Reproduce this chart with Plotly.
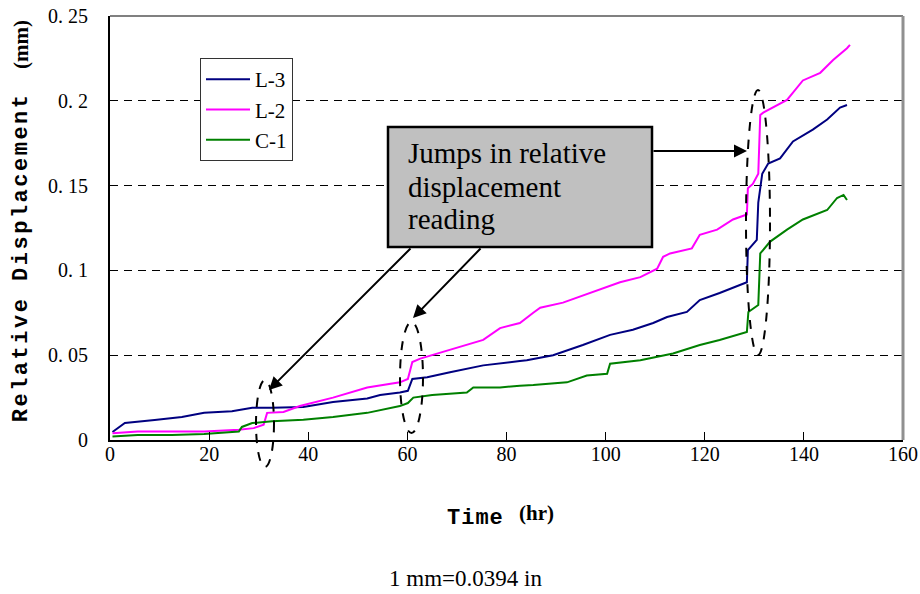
import plotly.graph_objects as go

# ---------------- data ----------------
t_L3 = [0.5, 3, 9, 14.5, 19, 24.6, 28.7, 32.7, 39, 45, 51.9, 54.5, 58.5, 60.1, 61, 64,
        68.6, 75.3, 82.7, 84.1, 89.4, 95.4, 100.9, 105.5, 109.6, 112.4, 116.4, 119, 123,
        128.5, 128.7, 130.5, 130.8, 131.6, 132.8, 135.2, 137.8, 141.8, 144.7, 147.3, 148.7]
v_L3 = [0.0047, 0.010, 0.0118, 0.0136, 0.016, 0.017, 0.019, 0.019, 0.0195, 0.0224, 0.0245,
        0.0265, 0.028, 0.029, 0.036, 0.037, 0.040, 0.044, 0.0466, 0.047, 0.050, 0.056, 0.062,
        0.065, 0.069, 0.0725, 0.0755, 0.0825, 0.0867, 0.093, 0.112, 0.118, 0.14, 0.157, 0.163,
        0.166, 0.176, 0.183, 0.189, 0.196, 0.1975]

t_L2 = [0.5, 5.6, 19, 26, 29, 31, 31.7, 35, 38.3, 45, 51.9, 58.5, 60.1, 61, 62.6, 68.6,
        75.3, 78.7, 82.7, 85.4, 86.8, 91.4, 94.8, 98.9, 102.9, 107, 110.4, 111.6, 113, 117.4,
        119, 122.5, 125.7, 128.5, 128.7, 129.7, 130.8, 131.2, 131.8, 136.6, 139.8, 143.3,
        145.9, 148.7, 149.3]
v_L2 = [0.004, 0.005, 0.005, 0.006, 0.007, 0.009, 0.016, 0.0165, 0.020, 0.025, 0.031, 0.034,
        0.036, 0.046, 0.048, 0.053, 0.059, 0.066, 0.069, 0.075, 0.078, 0.081, 0.0845, 0.0885,
        0.093, 0.096, 0.101, 0.108, 0.110, 0.113, 0.121, 0.124, 0.13, 0.133, 0.1485, 0.151,
        0.157, 0.1916, 0.193, 0.2005, 0.212, 0.2165, 0.224, 0.231, 0.233]

t_C1 = [0.5, 5.6, 12.5, 19, 26, 26.6, 28.7, 32.7, 39, 45, 51.9, 58.5, 60.1, 61.2, 65, 72,
        73.3, 78.7, 82.7, 85.4, 92.2, 96.2, 100.3, 100.9, 107, 113.6, 119, 123, 128.5, 128.8,
        130.8, 131.2, 133.2, 136.6, 139.8, 144.7, 146.7, 148, 148.7]
v_C1 = [0.002, 0.003, 0.003, 0.0035, 0.005, 0.0077, 0.010, 0.011, 0.012, 0.0136, 0.016,
        0.020, 0.0218, 0.025, 0.0265, 0.028, 0.031, 0.031, 0.032, 0.0324, 0.034, 0.038, 0.039,
        0.045, 0.047, 0.051, 0.056, 0.059, 0.0637, 0.0755, 0.0796, 0.110, 0.117, 0.124, 0.130,
        0.1356, 0.1427, 0.1445, 0.1415]

series_names = ["L-3", "L-2", "C-1"]
series_colors = ["#000080", "#FF00FF", "#008000"]

x_ticks = [0, 20, 40, 60, 80, 100, 120, 140, 160]
y_ticks = [0, 0.05, 0.1, 0.15, 0.2, 0.25]
y_ticktext = ["0", "0. 05", "0. 1", "0. 15", "0. 2", "0. 25"]

# ---------------- geometry helpers ----------------
W, H = 920, 594
L, R, T, B = 110, 17, 16, 154
PW, PH = W - L - R, H - T - B


def px(x):
    return (x - L) / PW


def py(y):
    return (H - B - y) / PH


fig = go.Figure()
for t, v, n, c in zip([t_L3, t_L2, t_C1], [v_L3, v_L2, v_C1], series_names, series_colors):
    fig.add_trace(go.Scatter(x=t, y=v, mode="lines", name=n,
                             line=dict(color=c, width=2)))

shapes = []
# gray top / right frame
shapes.append(dict(type="line", xref="paper", yref="paper", x0=0, x1=1, y0=1, y1=1,
                   line=dict(color="#808080", width=2)))
shapes.append(dict(type="line", xref="paper", yref="paper", x0=1, x1=1, y0=0, y1=1,
                   line=dict(color="#909090", width=3)))
# callout box
shapes.append(dict(type="rect", xref="paper", yref="paper",
                   x0=px(388), x1=px(652), y0=py(247), y1=py(127),
                   fillcolor="#C0C0C0", line=dict(color="black", width=2.5)))
# dashed ellipses
for (x0, x1, y0, y1) in [(256, 274, 380, 467), (400, 423, 322, 433), (746, 770, 90, 355)]:
    shapes.append(dict(type="circle", xref="paper", yref="paper",
                       x0=px(x0), x1=px(x1), y0=py(y1), y1=py(y0),
                       line=dict(color="black", width=2, dash="dash")))

annotations = []
# callout text
for txt, yc in [("Jumps in relative", 153), ("displacement", 187), ("reading", 219)]:
    annotations.append(dict(xref="paper", yref="paper", x=px(406), y=py(yc),
                            xanchor="left", yanchor="middle", showarrow=False, text=txt,
                            font=dict(family="Liberation Serif", size=29, color="black")))
# arrows (head, tail)
for (hx, hy, tx, ty) in [(269, 390, 412, 247), (413, 318, 482, 247), (747, 151, 652, 151)]:
    annotations.append(dict(xref="paper", yref="paper", x=px(hx), y=py(hy),
                            ax=tx - hx, ay=ty - hy, axref="pixel", ayref="pixel",
                            text="", showarrow=True, arrowhead=2, arrowsize=1.3,
                            arrowwidth=2, arrowcolor="black", standoff=0, startstandoff=0))
# axis titles
annotations.append(dict(xref="paper", yref="paper", x=px(475), y=py(518), showarrow=False,
                        text="<b>Time</b>", xanchor="center", yanchor="middle",
                        font=dict(family="Liberation Mono", size=22, color="black")))
annotations.append(dict(xref="paper", yref="paper", x=px(536), y=py(513), showarrow=False,
                        text="<b>(hr)</b>", xanchor="center", yanchor="middle",
                        font=dict(family="Liberation Serif", size=21, color="black")))
annotations.append(dict(xref="paper", yref="paper", x=px(21), y=py(258), showarrow=False,
                        text="<b>Relative Displacement</b>",
                        textangle=-90, xanchor="center", yanchor="middle",
                        font=dict(family="Liberation Mono", size=22, color="black")))
annotations.append(dict(xref="paper", yref="paper", x=px(21), y=py(45), showarrow=False,
                        text="<b>(mm)</b>", textangle=-90, xanchor="center", yanchor="middle",
                        font=dict(family="Liberation Serif", size=21, color="black")))
annotations.append(dict(xref="paper", yref="paper", x=px(465), y=py(578), showarrow=False,
                        text="1 mm=0.0394 in", xanchor="center", yanchor="middle",
                        font=dict(family="Liberation Serif", size=23, color="black")))

fig.update_layout(
    width=W, height=H, autosize=False,
    margin=dict(l=L, r=R, t=T, b=B, pad=0, autoexpand=False),
    paper_bgcolor="white", plot_bgcolor="white",
    showlegend=True,
    legend=dict(x=px(200), y=py(58), xanchor="left", yanchor="top",
                bgcolor="white", bordercolor="#333333", borderwidth=1,
                font=dict(family="Liberation Serif", size=21, color="black"),
                itemwidth=44, tracegroupgap=0),
    shapes=shapes, annotations=annotations,
    xaxis=dict(range=[0, 160], tickvals=x_ticks, ticktext=[str(v) for v in x_ticks],
               ticks="inside", ticklen=8, tickwidth=1, tickcolor="black",
               showline=True, linecolor="black", linewidth=2,
               showgrid=False, zeroline=False, ticklabelstandoff=-5,
               tickfont=dict(family="Liberation Serif", size=20, color="black")),
    yaxis=dict(range=[0, 0.25], tickvals=y_ticks, ticktext=y_ticktext,
               ticks="", showline=True, linecolor="black", linewidth=2,
               showgrid=True, gridcolor="black", gridwidth=1, griddash="8px,6px",
               zeroline=False, ticklabelstandoff=16,
               tickfont=dict(family="Liberation Serif", size=20, color="black")),
)

post = """
document.body.style.margin = '0';
document.body.style.padding = '0';
document.body.style.overflow = 'hidden';
document.querySelectorAll('text').forEach(function (t) {
  var s = t.textContent;
  if (s === 'Relative Displacement') { t.style.letterSpacing = '2.5px'; }
  if (s === 'Time') { t.style.letterSpacing = '1px'; }
});
"""

fig.write_html("out.html", post_script=post, config={"displayModeBar": False})
